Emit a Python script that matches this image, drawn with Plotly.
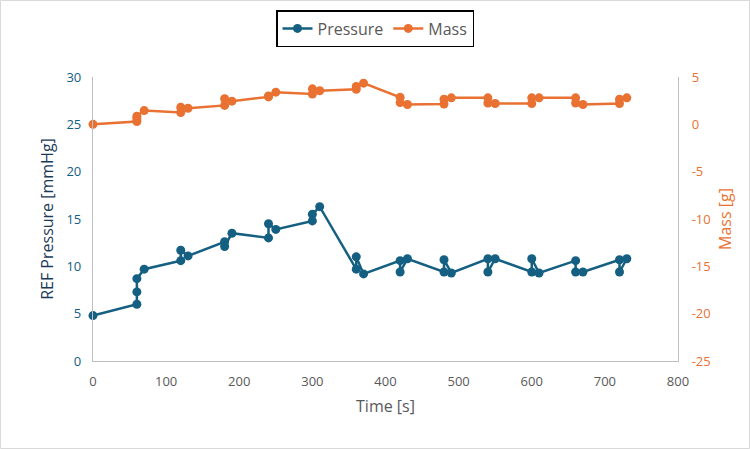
import plotly.graph_objects as go

time_s = [0, 60, 60, 60, 70, 120, 120, 130, 180, 180, 190, 240, 240, 250,
          300, 300, 310, 360, 360, 370, 420, 420, 430, 480, 480, 490,
          540, 540, 550, 600, 600, 610, 660, 660, 670, 720, 720, 730]
pressure = [4.8, 6.0, 7.3, 8.7, 9.7, 10.6, 11.7, 11.1, 12.6, 12.1, 13.5, 13.0, 14.5, 13.9,
            14.8, 15.5, 16.3, 9.7, 11.0, 9.2, 10.6, 9.4, 10.8, 9.4, 10.7, 9.3,
            10.8, 9.4, 10.8, 9.4, 10.8, 9.3, 10.6, 9.4, 9.4, 10.7, 9.4, 10.8]
mass = [0.0, 0.3, 0.6, 0.85, 1.45, 1.25, 1.8, 1.7, 2.0, 2.7, 2.45, 2.9, 3.0, 3.4,
        3.2, 3.75, 3.55, 3.7, 4.0, 4.35, 2.85, 2.3, 2.1, 2.15, 2.65, 2.8,
        2.8, 2.25, 2.2, 2.2, 2.8, 2.8, 2.8, 2.25, 2.1, 2.2, 2.65, 2.8]

mass_tick_vals = [5, 0, -5, -10, -15, -20, -25]
mass_tick_text = ["5", "0", "-5", "-10", "-15", "-20", "-25"]

BLUE = "#156082"
ORANGE = "#E97132"
GRAY = "#595959"
AXIS = "#BFBFBF"
FONT = "Open Sans"

fig = go.Figure()
fig.add_trace(go.Scatter(x=time_s, y=pressure, name="Pressure", mode="lines+markers",
                         line=dict(color=BLUE, width=2.5), marker=dict(color=BLUE, size=9),
                         cliponaxis=False, yaxis="y"))
fig.add_trace(go.Scatter(x=time_s, y=mass, name="Mass", mode="lines+markers",
                         line=dict(color=ORANGE, width=2.5), marker=dict(color=ORANGE, size=9),
                         cliponaxis=False, yaxis="y2"))

L, R, T, B = 93, 72, 77, 88
W, H = 750, 449
pw, ph = W - L - R, H - T - B

fig.update_layout(
    width=W, height=H,
    margin=dict(l=L, r=R, t=T, b=B, autoexpand=False),
    paper_bgcolor="white", plot_bgcolor="white",
    font=dict(family=FONT, color=GRAY, size=13),
    showlegend=True,
    legend=dict(orientation="h", xref="container", yref="container",
                x=0.5, xanchor="center", y=1 - 10 / H, yanchor="top",
                bordercolor="black", borderwidth=1.5,
                font=dict(size=16, color=GRAY, family=FONT),
                itemwidth=30, tracegroupgap=0),
    xaxis=dict(range=[0, 800], dtick=100, tick0=0, showgrid=False, zeroline=False,
               showline=True, linecolor=AXIS, linewidth=1.2, ticks="",
               tickfont=dict(size=13, color=GRAY), ticklabelstandoff=8,
               title=dict(text="Time [s]", font=dict(size=16, color=GRAY), standoff=12)),
    yaxis=dict(range=[0, 30], dtick=5, tick0=0, showgrid=False, zeroline=False,
               showline=True, linecolor=AXIS, linewidth=1.2, ticks="",
               tickfont=dict(size=13, color=BLUE), ticklabelstandoff=8,
               title=dict(text="REF Pressure [mmHg]", font=dict(size=16, color="#1B3A57"), standoff=8)),
    yaxis2=dict(range=[-25, 5], tickmode="array", tickvals=mass_tick_vals, ticktext=mass_tick_text,
                overlaying="y", side="right",
                showgrid=False, zeroline=False,
                showline=True, linecolor=AXIS, linewidth=1.2, ticks="",
                tickfont=dict(size=13, color=ORANGE), ticklabelstandoff=10,
                title=dict(text="Mass [g]", font=dict(size=16, color=ORANGE), standoff=10)),
    shapes=[dict(type="rect", xref="paper", yref="paper",
                 x0=-(L - 0.5) / pw, x1=1 + (R - 0.5) / pw,
                 y0=-(B - 0.5) / ph, y1=1 + (T - 0.5) / ph,
                 line=dict(color="#D9D9D9", width=1), layer="below")],
)

fig.write_html("out.html")
